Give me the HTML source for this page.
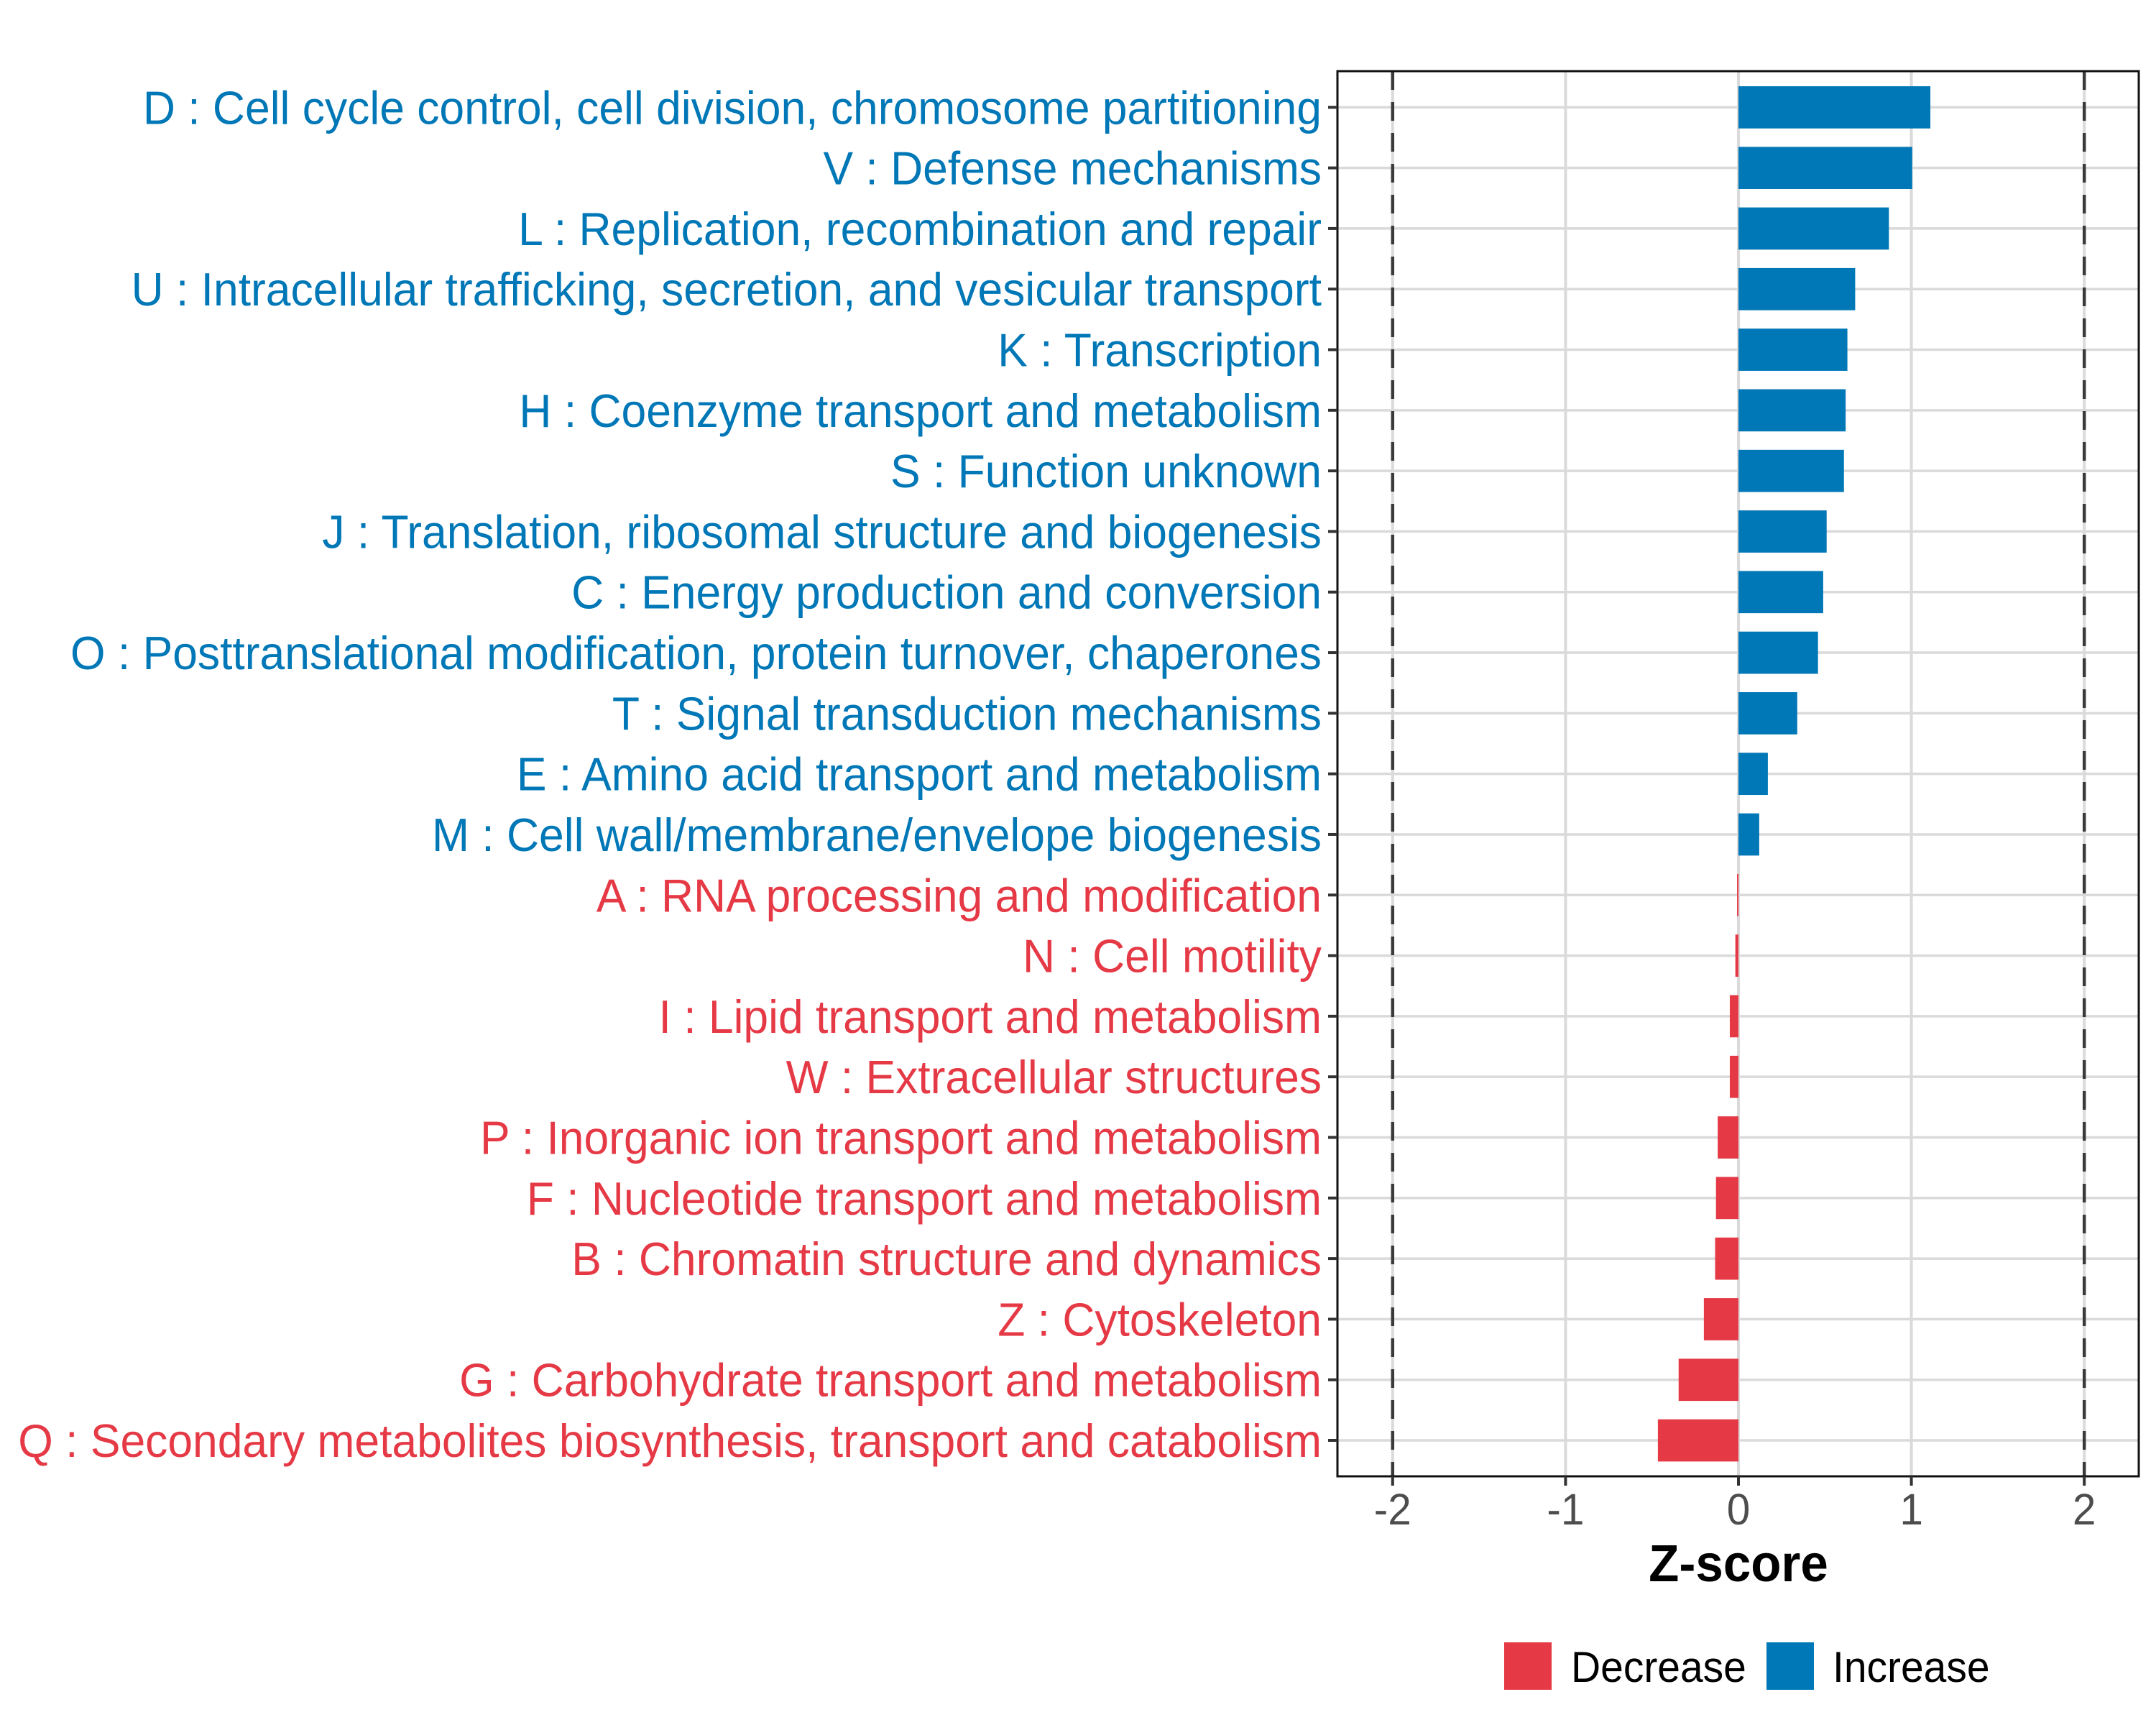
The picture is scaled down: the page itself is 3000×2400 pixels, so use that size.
<!DOCTYPE html>
<html><head><meta charset="utf-8"><style>
html,body{margin:0;padding:0;background:#fff}
svg{display:block}
text{font-family:"Liberation Sans",Arial,sans-serif}
</style></head><body>
<svg id="chart" width="3000" height="2400" viewBox="0 0 3000 2400" xmlns="http://www.w3.org/2000/svg">
<rect x="0" y="0" width="3000" height="2400" fill="#fff"/>
<g id="grid"></g><g id="bars"></g><g id="axes"></g>
</svg>
<script>
const categories = [
"D : Cell cycle control, cell division, chromosome partitioning",
"V : Defense mechanisms",
"L : Replication, recombination and repair",
"U : Intracellular trafficking, secretion, and vesicular transport",
"K : Transcription",
"H : Coenzyme transport and metabolism",
"S : Function unknown",
"J : Translation, ribosomal structure and biogenesis",
"C : Energy production and conversion",
"O : Posttranslational modification, protein turnover, chaperones",
"T : Signal transduction mechanisms",
"E : Amino acid transport and metabolism",
"M : Cell wall/membrane/envelope biogenesis",
"A : RNA processing and modification",
"N : Cell motility",
"I : Lipid transport and metabolism",
"W : Extracellular structures",
"P : Inorganic ion transport and metabolism",
"F : Nucleotide transport and metabolism",
"B : Chromatin structure and dynamics",
"Z : Cytoskeleton",
"G : Carbohydrate transport and metabolism",
"Q : Secondary metabolites biosynthesis, transport and catabolism"];
const zscores = [1.11,1.005,0.87,0.675,0.63,0.62,0.61,0.51,0.49,0.46,0.34,0.17,0.12,-0.008,-0.018,-0.05,-0.05,-0.12,-0.13,-0.135,-0.2,-0.346,-0.466];
const xTicks = [-2,-1,0,1,2];
const xTickLabels = ["-2","-1","0","1","2"];
const refLines = [-2,2];

const NS="http://www.w3.org/2000/svg";
const L=1861,R=2976,T=99,B=2054;
const x0=2419,unit=240.6;
const X=v=>x0+v*unit;
const rowTop=149.3,step=(2004-149.3)/(categories.length-1);
const Y=i=>rowTop+i*step;
const BLUE="#0077B6",RED="#E63946";
const SX=0.96;
function mk(tag,attrs,parent){const e=document.createElementNS(NS,tag);for(const k in attrs)e.setAttribute(k,attrs[k]);parent.appendChild(e);return e;}
const grid=document.getElementById('grid'),bars=document.getElementById('bars'),axes=document.getElementById('axes');

xTicks.forEach((t,i)=>{
  const l=mk('line',{x1:X(t),x2:X(t),y1:T,y2:B,stroke:'#dadada','stroke-width':4},grid);
  
  
});
categories.forEach((c,i)=>{
  const l=mk('line',{x1:L,x2:R,y1:Y(i),y2:Y(i),stroke:'#dadada','stroke-width':3.5},grid);
  
  
});
zscores.forEach((v,i)=>{
  const x=Math.min(X(0),X(v)),w=Math.max(Math.abs(X(v)-X(0)),1.5);
  const r=mk('rect',{x:x,y:Y(i)-29.3,width:w,height:58.7,fill:v>=0?BLUE:RED},bars);
  
  
});
refLines.forEach(v=>{
  const l=mk('line',{x1:X(v),x2:X(v),y1:T,y2:B,stroke:'#3a3a3a','stroke-width':4.5,'stroke-dasharray':'26 17'},axes);
  
  
});
const border=mk('rect',{x:L,y:T,width:R-L,height:B-T,fill:'none',stroke:'#111','stroke-width':3},axes);


categories.forEach((c,i)=>{
  const tk=mk('line',{x1:1848,x2:L,y1:Y(i),y2:Y(i),stroke:'#333','stroke-width':4},axes);
  
  
  const t=mk('text',{x:0,y:0,'text-anchor':'end','font-size':65,fill:zscores[i]>=0?BLUE:RED,transform:`translate(1839,${Y(i)+23}) scale(${SX},1)`},axes);
  t.textContent=c;
  
  
});
xTicks.forEach((v,i)=>{
  const tk=mk('line',{x1:X(v),x2:X(v),y1:B,y2:2067,stroke:'#333','stroke-width':4},axes);
  
  
  const t=mk('text',{x:0,y:0,'text-anchor':'middle','font-size':61,fill:'#4d4d4d',transform:`translate(${X(v)},2121) scale(${SX},1)`},axes);
  t.textContent=xTickLabels[i];
  
  
});
const title=mk('text',{x:0,y:0,'text-anchor':'middle','font-size':72,'font-weight':'bold',fill:'#000',transform:`translate(${X(0)},2200) scale(${SX},1)`},axes);
title.textContent='Z-score';


const legend=[["Decrease",RED,2093,2186],["Increase",BLUE,2458,2550]];
legend.forEach(([lab,col,kx,tx])=>{
  const r=mk('rect',{x:kx,y:2285,width:66,height:66,fill:col},axes);
  
  
  const t=mk('text',{x:0,y:0,'font-size':60,fill:'#000',transform:`translate(${tx},2340) scale(0.95,1)`},axes);
  t.textContent=lab;
  
  
});
</script>
</body></html>
